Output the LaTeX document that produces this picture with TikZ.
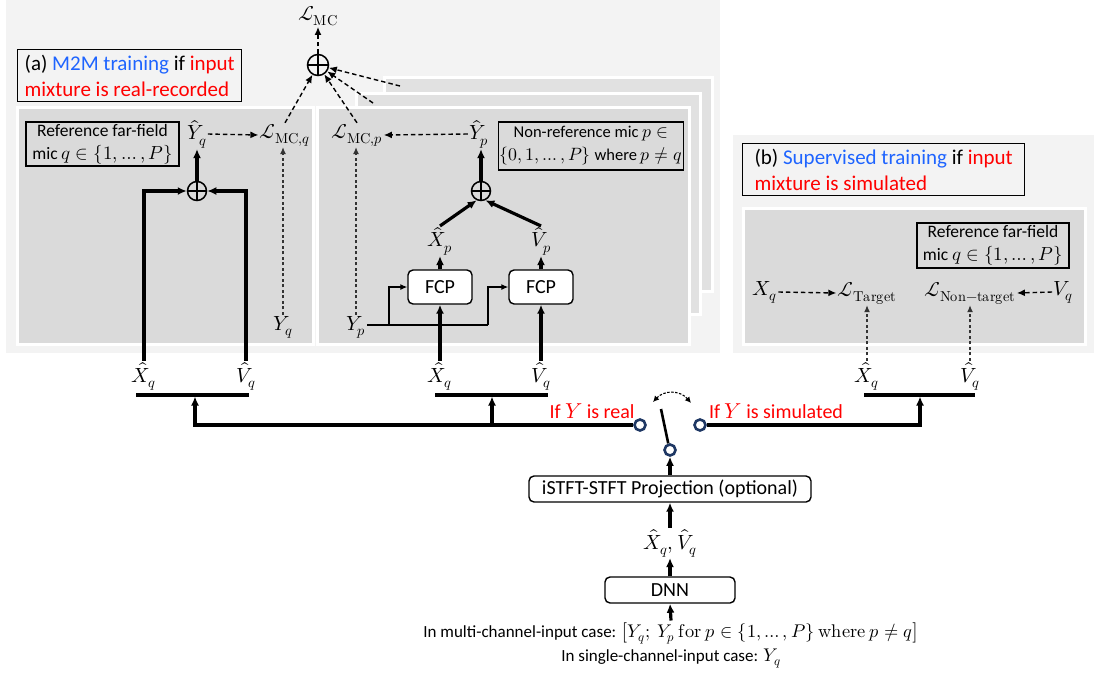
\documentclass[tikz,border=0pt]{standalone}
\usepackage{fontspec}
\usepackage{unicode-math}
\setmainfont{Carlito}
\setmathfont{Latin Modern Math}[Scale=1.08]
\usetikzlibrary{arrows.meta}
\definecolor{outerbg}{RGB}{243,243,243}
\definecolor{panelbg}{RGB}{218,218,218}
\definecolor{stackbg}{RGB}{225,225,225}
\definecolor{myblue}{RGB}{30,100,255}
\definecolor{myred}{RGB}{255,0,0}
\definecolor{navy}{RGB}{31,56,100}
\begin{document}
\begin{tikzpicture}[x=1pt,y=-1pt,
  txt/.style={font=\fontsize{19}{23}\selectfont, inner sep=1pt},
  redtxt/.style={font=\fontsize{20}{24}\selectfont, inner sep=1pt, text=myred},
  box/.style={draw, line width=1.3, align=center, inner sep=1pt, font=\fontsize{17.5}{23}\selectfont},
  labelbox/.style={draw, line width=1.3, align=left, inner xsep=7pt, inner ysep=2pt, font=\fontsize{21}{25.5}\selectfont, minimum height=52},
  block/.style={draw, line width=1.4, rounded corners=5pt, fill=white, inner sep=1pt, font=\fontsize{20}{24}\selectfont},
  oplus/.style={circle, draw, line width=1.5, minimum size=19, inner sep=0pt,
    path picture={\draw[line width=1.5] (path picture bounding box.north) -- (path picture bounding box.south)
      (path picture bounding box.west) -- (path picture bounding box.east);}},
  contact/.style={circle, draw=navy, fill=white, line width=2.6, minimum size=11, inner sep=0pt},
  panel/.style={fill=panelbg, draw=white, line width=3},
  stackpanel/.style={fill=stackbg, draw=white, line width=3},
  tarr/.style={line width=3.2, -{Latex[length=9pt,width=8pt]}},
  bar/.style={line width=3.2},
  tlarr/.style={line width=1.2, -{Latex[length=7pt,width=6pt]}},
  darr/.style={line width=1.4, dash pattern=on 4.5pt off 3pt, -{Latex[length=8pt,width=7pt]}},
  vdarr/.style={line width=1.1, black!80, dash pattern=on 3pt off 2.5pt, -{Latex[length=7pt,width=6pt]}},
]
\useasboundingbox (0,0) rectangle (1094,675);
\fill[white] (0,0) rectangle (1094,675);
% backgrounds
\fill[outerbg] (6,0) rectangle (720,353);
\fill[outerbg] (733,135) rectangle (1094,353);
\filldraw[panel] (17,107) rectangle (313,344);
\filldraw[stackpanel] (384,77) rectangle (712,291);
\filldraw[stackpanel] (356,93) rectangle (700,314);
\filldraw[panel] (317,107) rectangle (689,344);
\filldraw[panel] (743,208) rectangle (1085,344);

% labels
\node[labelbox, anchor=north west] (labA) at (17,49)
  {(a) \textcolor{myblue}{M2M training} if \textcolor{myred}{input}\\\textcolor{myred}{mixture is real-recorded}};
\node[labelbox, anchor=north west, minimum width=282] (labB) at (742,143)
  {(b) \textcolor{myblue}{Supervised training} if \textcolor{myred}{input}\\\textcolor{myred}{mixture is simulated}};

% top sum
\node[txt] (LMC) at (318,16) {$\mathcal{L}_{\symup{MC}}$};
\node[oplus, minimum size=21] (sumTop) at (318,65) {};

% left panel
\node[box, minimum width=153, minimum height=44] (refA) at (102.5,144) {Reference far-field\\ mic $q \in \{1,\ldots,P\}$};
\node[txt] (Yhq) at (197,134) {$\hat{Y}_q$};
\node[txt] (LMCq) at (285,135) {$\mathcal{L}_{\symup{MC},q}$};
\node[oplus] (sumL) at (197,191) {};
\node[txt] (Yq) at (283,327) {$Y_q$};

% middle panel
\node[txt] (LMCp) at (357,135) {$\mathcal{L}_{\symup{MC},p}$};
\node[txt] (Yhp) at (479,134) {$\hat{Y}_p$};
\node[box, minimum width=182, minimum height=48, font=\fontsize{16.5}{23}\selectfont] (nonref) at (591,146) {Non-reference mic $p\in$\\ $\{0,1,\ldots,P\}$ where $p\neq q$};
\node[oplus] (sumM) at (481,191) {};
\node[txt] (Xhp) at (440,241) {$\hat{X}_p$};
\node[txt] (Vhp) at (541,241) {$\hat{V}_p$};
\node[block, minimum width=64, minimum height=34] (fcp1) at (440,287) {FCP};
\node[block, minimum width=64, minimum height=34] (fcp2) at (541,287) {FCP};
\node[txt] (Yp) at (356,327) {$Y_p$};

% panel b
\node[box, minimum width=152, minimum height=45] (refB) at (993,245.5) {Reference far-field\\ mic $q \in \{1,\ldots,P\}$};
\node[txt] (Xq) at (765,292) {$X_q$};
\node[txt] (LT) at (867,293) {$\mathcal{L}_{\symup{Target}}$};
\node[txt] (LNT) at (970,293) {$\mathcal{L}_{\symup{Non-target}}$};
\node[txt] (Vq) at (1063,292) {$V_q$};

% bottom labels
\node[txt] (xq1) at (144,376) {$\hat{X}_q$};
\node[txt] (vq1) at (246,376) {$\hat{V}_q$};
\node[txt] (xq2) at (440,376) {$\hat{X}_q$};
\node[txt] (vq2) at (541,376) {$\hat{V}_q$};
\node[txt] (xq3) at (867,376) {$\hat{X}_q$};
\node[txt] (vq3) at (970,376) {$\hat{V}_q$};

\draw[bar] (136,395) -- (249,395);
\draw[bar] (435,395) -- (548,395);
\draw[bar] (864,395) -- (975,395);
\coordinate (bar1) at (195,396.5);
\coordinate (bar2) at (492,396.5);
\coordinate (bar3) at (920,396.5);
\coordinate (j2) at (492,425);

% switch
\node[contact] (cR) at (640,425) {};
\node[contact] (cS) at (700,425) {};
\node[contact] (cC) at (670,450) {};
\coordinate (leverTip) at (661,409);
\draw[line width=2.6] (cC.105) -- (leverTip);
\draw[line width=1.1, dash pattern=on 2.5pt off 1.5pt, {Latex[length=6pt,width=6pt]}-{Latex[length=6pt,width=6pt]}]
  (653,402) .. controls (664,390) and (680,390) .. (691,403);
\node[redtxt] (ifReal) at (592,411) {If $Y$ is real};
\node[redtxt] (ifSim) at (776,411) {If $Y$ is simulated};

% lower pipeline
\node[block, minimum width=282, minimum height=26] (proj) at (670,489) {iSTFT-STFT Projection (optional)};
\node[txt] (est) at (670,543) {$\hat{X}_q,\hat{V}_q$};
\node[block, minimum width=130, minimum height=26] (dnn) at (670,590) {DNN};
\node[align=center, font=\fontsize{17}{24}\selectfont, inner sep=1pt] (inp) at (671,645)
  {In multi-channel-input case: $\big[Y_q;\ Y_p\ \symup{for}\ p\in\{1,\ldots,P\}\ \symup{where}\ p\neq q\big]$\\ In single-channel-input case: $Y_q$};

\draw[tarr] (inp.north) -- (dnn.south);
\draw[tarr] (dnn.north) -- (est.south);
\draw[tarr] (est.north) -- (proj.south);
\draw[tarr] (proj.north) -- (cC.south);

% switch outputs
\draw[tarr] (cR.west) -| (bar1);
\draw[tarr] (j2) -- (bar2);
\draw[tarr] (cS.east) -| (bar3);

% left panel connections
\draw[tarr] (xq1.north) |- (sumL.west);
\draw[tarr] (vq1.north) |- (sumL.east);
\draw[tarr] (sumL.north) -- (Yhq.south);
\draw[darr] (Yhq.east) -- (LMCq.west);
\draw[vdarr] (Yq.north) -- (Yq.north |- LMCq.south);

% middle panel connections
\draw[tarr] (xq2.north) -- (fcp1.south);
\draw[tarr] (vq2.north) -- (fcp2.south);
\draw[tarr] (fcp1.north) -- (Xhp.south);
\draw[tarr] (fcp2.north) -- (Vhp.south);
\draw[tarr] (Xhp.north) -- (sumM.-115);
\draw[tarr] (Vhp.north) -- (sumM.-65);
\draw[tarr] (sumM.north) -- (sumM.north |- Yhp.south);
\draw[darr] (Yhp.west) -- (LMCp.east);
\draw[vdarr] (Yp.north) -- (Yp.north |- LMCp.south);
\coordinate (b1) at (389,325);
\coordinate (b2) at (488,325);
\draw[line width=1.2] (Yp.east |- b1) -- (b2);
\draw[tlarr] (b1) |- (fcp1.west);
\draw[tlarr] (b2) |- (fcp2.west);

% top sum connections
\coordinate (s2) at (373,103);
\coordinate (s3) at (400,86);
\draw[darr] (sumTop.north) -- (LMC.south);
\draw[darr] (LMCq.north) -- (sumTop);
\draw[darr] (LMCp.north) -- (sumTop);
\draw[darr] (s2) -- (sumTop);
\draw[darr] (s3) -- (sumTop);

% panel b connections
\draw[darr] (Xq.east) -- (LT.west);
\draw[darr] (Vq.west) -- (LNT.east);
\draw[vdarr] (xq3.north) -- (xq3.north |- LT.south);
\draw[vdarr] (vq3.north) -- (vq3.north |- LNT.south);
\end{tikzpicture}
\end{document}
